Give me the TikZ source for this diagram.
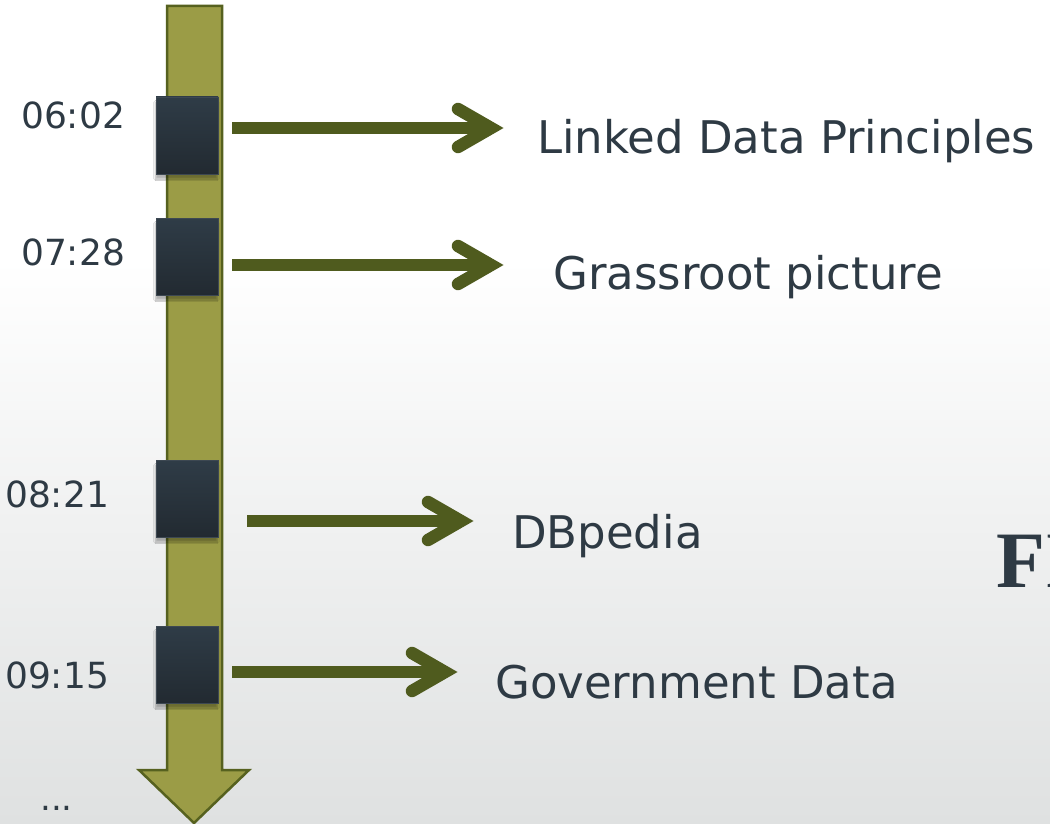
\documentclass[tikz,border=0pt]{standalone}
\usepackage{fontspec}
\usetikzlibrary{shadows.blur,calc}
\newfontfamily\labfont{DejaVu Sans}
\newfontfamily\titlefont{Liberation Serif}
\definecolor{ink}{HTML}{2E3A44}
\definecolor{shaftfill}{HTML}{9B9C46}
\definecolor{shaftline}{HTML}{56611F}
\definecolor{arrowcol}{HTML}{4F5B1E}
\definecolor{sqtop}{HTML}{2F3C47}
\definecolor{sqbot}{HTML}{222A31}
\definecolor{sqedge}{HTML}{3D4852}
\definecolor{bgbot}{HTML}{DFE1E1}
\tikzset{
  sq/.style={rectangle, minimum width=62pt, minimum height=77pt, inner sep=0pt,
    top color=sqtop, bottom color=sqbot, draw=sqedge, line width=0.8pt,
    blur shadow={shadow xshift=-0.5pt, shadow yshift=-5pt, shadow blur steps=6, shadow opacity=30}},
  topic/.style={anchor=base west, inner sep=0pt, text=ink, font=\labfont\fontsize{45}{54}\selectfont},
  stamp/.style={anchor=base west, inner sep=0pt, text=ink, font=\labfont\fontsize{36}{43}\selectfont},
  shaftln/.style={draw=arrowcol, line width=12.5pt, line cap=butt},
  chev/.style={draw=arrowcol, line width=12.5pt, line cap=round, line join=miter},
}
\newcommand{\chevron}[1]{\draw[chev] ($(#1)+(-33,-19)$) -- (#1) -- ($(#1)+(-33,19)$);}
\begin{document}
\begin{tikzpicture}[x=1pt,y=-1pt]
  \useasboundingbox (0,0) rectangle (1050,824);
  \clip (0,0) rectangle (1050,824);
  % background
  \fill[white] (0,0) rectangle (1050,260);
  \shade[top color=white, bottom color=bgbot] (0,259) rectangle (1050,824);

  % timeline arrow
  \draw[fill=shaftfill, draw=shaftline, line width=2.5pt, line join=miter]
    (167,6) -- (222,6) -- (222,770) -- (249,770) -- (194,823) -- (139,770) -- (167,770) -- cycle;

  % time markers
  \node[sq] (s1) at (187,135.5) {};
  \node[sq] (s2) at (187,256.5) {};
  \node[sq] (s3) at (187,498.5) {};
  \node[sq] (s4) at (187,664.5) {};

  % time stamps
  \node[stamp] (t1) at (21,129) {06:02};
  \node[stamp] (t2) at (21,265) {07:28};
  \node[stamp] (t3) at (5,507) {08:21};
  \node[stamp] (t4) at (5,688) {09:15};
  \node[anchor=base west, inner sep=0pt, text=ink, font=\labfont\fontsize{34}{40}\selectfont] (dots) at (40,810) {...};

  % topics
  \node[topic] (l1) at (537,154) {Linked Data Principles};
  \node[topic] (l2) at (553,289) {Grassroot picture};
  \node[topic] (l3) at (512,548) {DBpedia};
  \node[topic] (l4) at (495,698) {Government Data};

  % arrow ends
  \coordinate (a1s) at (232,128); \coordinate (a1e) at (491,128);
  \coordinate (a2s) at (232,265); \coordinate (a2e) at (491,265);
  \coordinate (a3s) at (247,521); \coordinate (a3e) at (461,521);
  \coordinate (a4s) at (232,672); \coordinate (a4e) at (445,672);

  \draw[shaftln] (a1s) -- (a1e); \chevron{a1e}
  \draw[shaftln] (a2s) -- (a2e); \chevron{a2e}
  \draw[shaftln] (a3s) -- (a3e); \chevron{a3e}
  \draw[shaftln] (a4s) -- (a4e); \chevron{a4e}

  % heading running off the right edge
  \node[anchor=base west, inner sep=0pt, text=ink, font=\titlefont\bfseries\fontsize{80}{90}\selectfont] (head) at (996,587) {FI};
\end{tikzpicture}
\end{document}
